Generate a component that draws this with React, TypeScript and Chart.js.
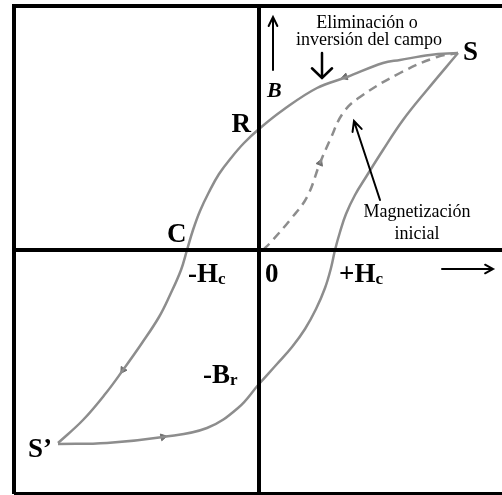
import React, { useEffect, useRef } from "react";
import { Chart, registerables } from "chart.js";

Chart.register(...registerables);

// Field strength H (arbitrary units, 0 at the vertical axis) and flux density B
const upperBranchH = [199, 171, 141, 124, 88, 58, 24, 0, -15, -28, -40, -50, -59, -66, -72, -78, -89, -100, -117, -136, -153, -176, -201];
const upperBranchB = [197, 195, 190, 187, 173, 162, 140, 121, 107, 92, 76, 58, 39, 20, 0, -20, -45, -67, -93, -120, -143, -170, -193];

const lowerBranchH = [-201, -152, -96, -52, -21, 0, 18, 33, 46, 57, 66, 72, 76, 81, 87, 96, 107, 124, 144, 168, 199];
const lowerBranchB = [-194, -193, -187, -178, -158, -134, -114, -97, -79, -59, -38, -18, 0, 18, 36, 55, 73, 100, 130, 160, 197];

const initialH = [4, 11, 31, 48, 61, 71, 84, 101, 141, 178, 199];
const initialB = [0, 7, 30, 53, 87, 110, 137, 153, 177, 193, 197];

// direction markers on the loop
const markerH = [86, 61, -136, -96];
const markerB = [173, 87, -120, -187];
const markerAngle = [252, 22, 213, 78];

const AXIS_MIN_H = -245;
const AXIS_MAX_H = 243;
const AXIS_MIN_B = -244;
const AXIS_MAX_B = 244;

const SERIF = "'Liberation Serif', 'Times New Roman', serif";

type Lbl = { t: string; sub?: string; x: number; y: number; align: CanvasTextAlign; font: string };
const labels: Lbl[] = [
  { t: "S", x: 204, y: 190, align: "left", font: `bold 27px ${SERIF}` },
  { t: "R", x: -8, y: 118, align: "right", font: `bold 27px ${SERIF}` },
  { t: "C", x: -92, y: 8, align: "left", font: `bold 27px ${SERIF}` },
  { t: "-H", sub: "c", x: -71, y: -32, align: "left", font: `bold 27px ${SERIF}` },
  { t: "0", x: 6, y: -32, align: "left", font: `bold 27px ${SERIF}` },
  { t: "+H", sub: "c", x: 80, y: -32, align: "left", font: `bold 27px ${SERIF}` },
  { t: "-B", sub: "r", x: -56, y: -133, align: "left", font: `bold 27px ${SERIF}` },
  { t: "S\u2019", x: -231, y: -207, align: "left", font: `bold 27px ${SERIF}` },
  { t: "B", x: 8, y: 153, align: "left", font: `italic bold 22px ${SERIF}` },
  { t: "Eliminación o", x: 108, y: 222, align: "center", font: `18px ${SERIF}` },
  { t: "inversión del campo", x: 110, y: 205, align: "center", font: `18px ${SERIF}` },
  { t: "Magnetización", x: 158, y: 33, align: "center", font: `18px ${SERIF}` },
  { t: "inicial", x: 158, y: 11, align: "center", font: `18px ${SERIF}` },
];

type Arr = { x1: number; y1: number; x2: number; y2: number; head: number; spread: number; w: number };
const arrows: Arr[] = [
  { x1: 14, y1: 180, x2: 14, y2: 233, head: 10, spread: 0.45, w: 2 },
  { x1: 63, y1: 197, x2: 63, y2: 172, head: 14, spread: 0.8, w: 2.5 },
  { x1: 121, y1: 50, x2: 95, y2: 129, head: 11, spread: 0.45, w: 2 },
  { x1: 183, y1: -19, x2: 234, y2: -19, head: 9, spread: 0.5, w: 2 },
];

const overlay = {
  id: "overlay",
  afterDatasetsDraw(chart: any) {
    const { ctx, chartArea } = chart;
    const xs = chart.scales.x;
    const ys = chart.scales.y;
    const px = (v: number) => xs.getPixelForValue(v);
    const py = (v: number) => ys.getPixelForValue(v);
    ctx.save();
    ctx.strokeStyle = "#000";
    ctx.lineCap = "butt";
    ctx.lineWidth = 4;
    ctx.beginPath();
    ctx.moveTo(chartArea.left, chartArea.bottom);
    ctx.lineTo(chartArea.left, chartArea.top);
    ctx.lineTo(chartArea.right, chartArea.top);
    ctx.moveTo(chartArea.left, chartArea.bottom);
    ctx.lineTo(chartArea.right, chartArea.bottom);
    ctx.moveTo(px(0), chartArea.top);
    ctx.lineTo(px(0), chartArea.bottom);
    ctx.moveTo(chartArea.left, py(0));
    ctx.lineTo(chartArea.right, py(0));
    ctx.stroke();

    // arrows
    ctx.lineCap = "round";
    ctx.lineJoin = "miter";
    arrows.forEach((a) => {
      const x1 = px(a.x1), y1 = py(a.y1), x2 = px(a.x2), y2 = py(a.y2);
      const ang = Math.atan2(y2 - y1, x2 - x1);
      ctx.lineWidth = a.w;
      ctx.beginPath();
      ctx.moveTo(x1, y1);
      ctx.lineTo(x2, y2);
      ctx.moveTo(x2 - a.head * Math.cos(ang - a.spread), y2 - a.head * Math.sin(ang - a.spread));
      ctx.lineTo(x2, y2);
      ctx.lineTo(x2 - a.head * Math.cos(ang + a.spread), y2 - a.head * Math.sin(ang + a.spread));
      ctx.stroke();
    });

    // labels
    ctx.fillStyle = "#000";
    ctx.textBaseline = "alphabetic";
    labels.forEach((l) => {
      ctx.font = l.font;
      ctx.textAlign = l.align;
      const x = px(l.x), y = py(l.y);
      ctx.fillText(l.t, x, y);
      if (l.sub) {
        const w = ctx.measureText(l.t).width;
        ctx.font = `bold 17px ${SERIF}`;
        ctx.textAlign = "left";
        ctx.fillText(l.sub, x + w, y + 2);
      }
    });
    ctx.restore();
  },
};

const toPts = (xs: number[], ys: number[]) => xs.map((x, i) => ({ x, y: ys[i] }));

export default function App() {
  const ref = useRef<HTMLCanvasElement | null>(null);
  useEffect(() => {
    if (!ref.current) return;
    const chart = new Chart(ref.current, {
      type: "scatter",
      data: {
        datasets: [
          {
            data: toPts(upperBranchH, upperBranchB),
            showLine: true,
            borderColor: "#8d8d8d",
            borderWidth: 2.5,
            pointRadius: 0,
            tension: 0.4,
          },
          {
            data: toPts(lowerBranchH, lowerBranchB),
            showLine: true,
            borderColor: "#8d8d8d",
            borderWidth: 2.5,
            pointRadius: 0,
            tension: 0.4,
          },
          {
            data: toPts(initialH, initialB),
            showLine: true,
            borderColor: "#8d8d8d",
            borderWidth: 2.5,
            borderDash: [9, 6],
            pointRadius: 0,
            tension: 0.4,
          },
          {
            data: toPts(markerH, markerB),
            showLine: false,
            pointStyle: "triangle",
            pointRadius: 4,
            pointRotation: markerAngle,
            backgroundColor: "#6f6f6f",
            borderColor: "#6f6f6f",
            borderWidth: 1,
          },
        ],
      } as any,
      options: {
        animation: false,
        responsive: false,
        events: [],
        layout: { autoPadding: false, padding: { left: 14, top: 6, right: 0, bottom: 1 } },
        plugins: { legend: { display: false }, tooltip: { enabled: false } },
        scales: {
          x: { type: "linear", min: AXIS_MIN_H, max: AXIS_MAX_H, display: false },
          y: { type: "linear", min: AXIS_MIN_B, max: AXIS_MAX_B, display: false },
        },
      } as any,
      plugins: [overlay],
    });
    return () => chart.destroy();
  }, []);
  return (
    <div style={{ position: "absolute", left: 0, top: 0, width: 502, height: 495, background: "#fff" }}>
      <canvas ref={ref} width={502} height={495} style={{ display: "block" }} />
    </div>
  );
}
